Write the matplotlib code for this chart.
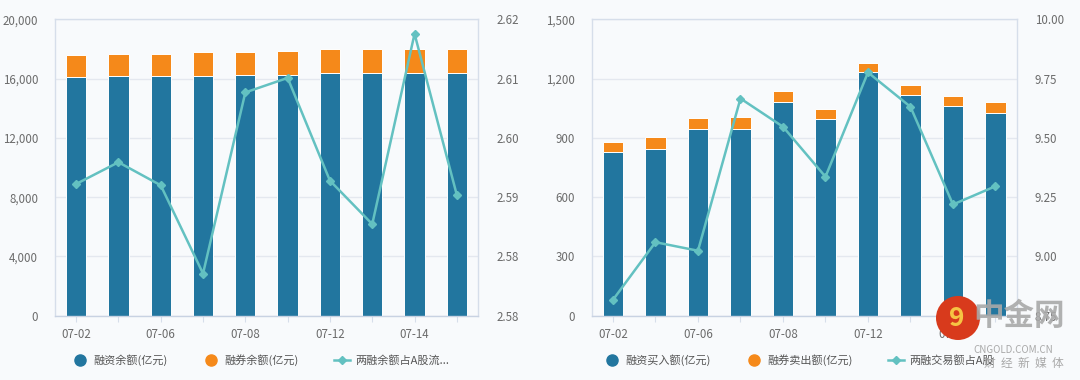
import matplotlib
matplotlib.use("Agg")
import matplotlib.pyplot as plt
from matplotlib.lines import Line2D
from matplotlib.patches import Circle

plt.rcParams['font.family'] = ['Noto Sans CJK SC', 'DejaVu Sans']

dates = ['07-02', '07-05', '07-06', '07-07', '07-08', '07-09', '07-12', '07-13', '07-14', '07-15']
shown = ['07-02', '07-06', '07-08', '07-12', '07-14']

# left chart: balances
fin_bal = [16074, 16141, 16141, 16185, 16252, 16252, 16410, 16410, 16410, 16410]
sec_bal = [1502, 1502, 1502, 1593, 1526, 1593, 1570, 1570, 1570, 1570]
bal_ratio = [2.5950, 2.5983, 2.5948, 2.5814, 2.6089, 2.6111, 2.5955, 2.5889, 2.6178, 2.5933]
left_ticks = [0, 4000, 8000, 12000, 16000, 20000]
left_r_ticks = [2.575, 2.584, 2.593, 2.602, 2.611, 2.620]
left_r_labels = ['2.58', '2.58', '2.59', '2.60', '2.61', '2.62']

# right chart: trading volumes
fin_buy = [830, 845, 946, 946, 1079, 993, 1231, 1118, 1061, 1027]
sec_sell = [49, 59, 57, 61, 57, 52, 50, 47, 52, 52]
trade_ratio = [8.817, 9.060, 9.024, 9.666, 9.547, 9.336, 9.776, 9.631, 9.219, 9.296]
right_ticks = [0, 300, 600, 900, 1200, 1500]
right_r_ticks = [8.75, 9.00, 9.25, 9.50, 9.75, 10.00]

BG = '#f8fafc'
BLUE = '#22769f'
ORANGE = '#f5891a'
TEAL = '#63c1c1'
GRID = '#e4e8ef'
SPINE = '#d6deea'
TXT = '#6b6b6b'

fig = plt.figure(figsize=(10.8, 3.8), dpi=100, facecolor=BG)


def panel(rect, blue, orange, ratio, yt, rt, rlabels, names):
    ax = fig.add_axes(rect, facecolor=BG)
    x = list(range(len(dates)))
    ax.bar(x, blue, width=0.48, color=BLUE, edgecolor='white', linewidth=0.7, zorder=2)
    ax.bar(x, orange, width=0.48, bottom=blue, color=ORANGE, edgecolor='white',
           linewidth=0.7, zorder=2)
    ax.set_xlim(-0.5, len(dates) - 0.5)
    ax.set_ylim(yt[0], yt[-1])
    ax.set_yticks(yt)
    ax.set_yticklabels([f'{v:,}' for v in yt])
    ax.yaxis.grid(True, color=GRID, linewidth=1, zorder=0)
    ax.set_xticks(x)
    ax.set_xticklabels([d if d in shown else '' for d in dates])
    ax.tick_params(axis='y', length=0, pad=12, labelsize=8.3, labelcolor=TXT)
    ax.tick_params(axis='x', length=4, color=SPINE, pad=5, labelsize=8.3, labelcolor=TXT)
    for s in ax.spines.values():
        s.set_color(SPINE)
        s.set_linewidth(1)
    ax.spines['bottom'].set_color('#c8d2e2')

    ax2 = ax.twinx()
    ax2.plot(x, ratio, color=TEAL, linewidth=1.8, marker='D', markersize=4,
             zorder=3)
    ax2.set_ylim(rt[0], rt[-1])
    ax2.set_yticks(rt)
    ax2.set_yticklabels(rlabels)
    ax2.tick_params(axis='y', length=0, pad=13, labelsize=8.3, labelcolor=TXT)
    for s in ax2.spines.values():
        s.set_visible(False)

    handles = [
        Line2D([], [], linestyle='none', marker='o', markersize=8, color=BLUE),
        Line2D([], [], linestyle='none', marker='o', markersize=8, color=ORANGE),
        Line2D([], [], color=TEAL, linewidth=1.8, marker='D', markersize=4),
    ]
    cx = rect[0] + rect[2] / 2
    leg = fig.legend(handles, names, loc='center', bbox_to_anchor=(cx - 0.005, 0.053),
                     ncol=3, frameon=False, fontsize=8, handlelength=1.4,
                     handletextpad=0.5, columnspacing=3.2)
    for t in leg.get_texts():
        t.set_color('#555555')
    return ax


panel([0.0509, 0.1692, 0.3917, 0.78], fin_bal, sec_bal, bal_ratio,
      left_ticks, left_r_ticks, left_r_labels,
      ['融资余额(亿元)', '融券余额(亿元)', '两融余额占A股流...'])
panel([0.5479, 0.1692, 0.3935, 0.78], fin_buy, sec_sell, trade_ratio,
      right_ticks, right_r_ticks, [f'{v:.2f}' for v in right_r_ticks],
      ['融资买入额(亿元)', '融券卖出额(亿元)', '两融交易额占A股'])

# watermark (site logo over the lower right corner)
logo = Circle((958 / 100, 3.8 - 318 / 100), 0.22, transform=fig.dpi_scale_trans,
              facecolor='#d83a1c', edgecolor='none', zorder=10)
fig.add_artist(logo)
fig.text(957 / 1080, 1 - 319 / 380, '9', ha='center', va='center', fontsize=19,
         fontweight='bold', color='#f6c443', zorder=11)
fig.text(1019 / 1080, 1 - 316 / 380, '中金网', ha='center', va='center', fontsize=22,
         fontweight='bold', color='#a9a9a9', alpha=0.9, zorder=11)
fig.text(1013 / 1080, 1 - 350 / 380, 'CNGOLD.COM.CN', ha='center', va='center',
         fontsize=7, color='#a9a9a9', zorder=11)
fig.text(1024 / 1080, 1 - 363 / 380, '财  经  新  媒  体', ha='center', va='center',
         fontsize=8.5, color='#a9a9a9', zorder=11)

fig.savefig('out.png', dpi=100, facecolor=BG)
